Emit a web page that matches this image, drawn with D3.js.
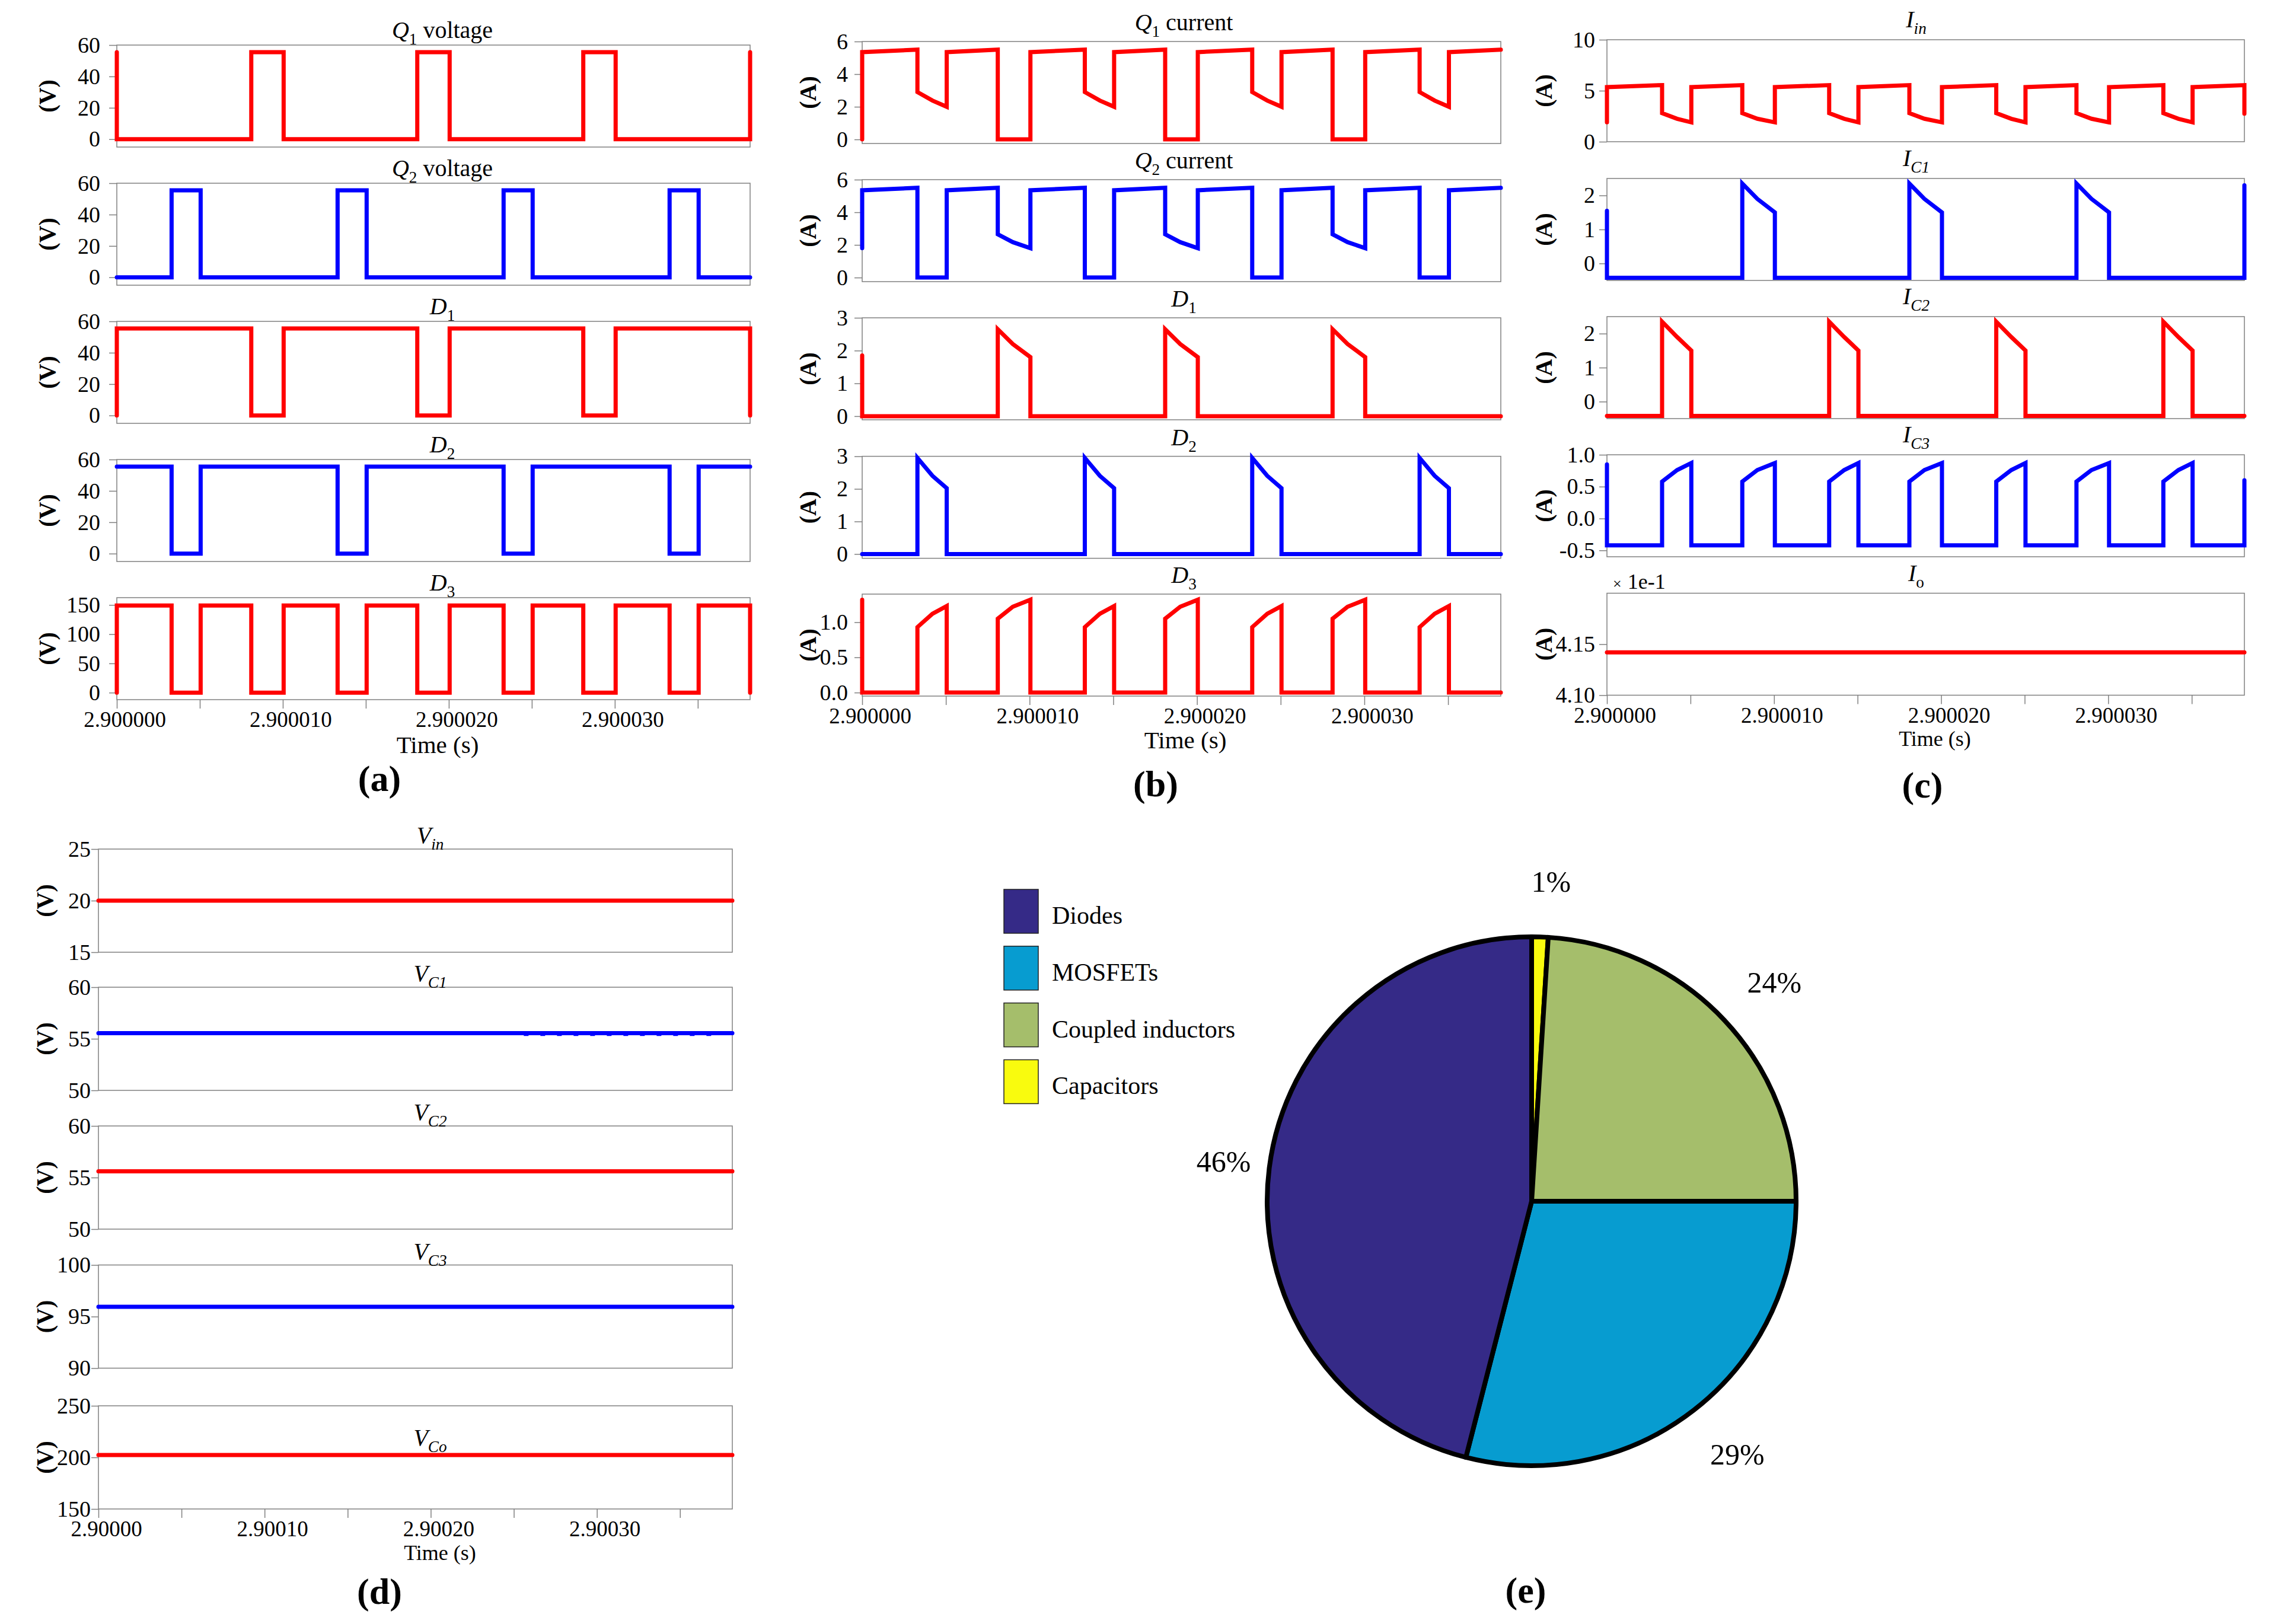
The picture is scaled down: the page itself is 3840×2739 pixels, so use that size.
<!DOCTYPE html>
<html>
<head>
<meta charset="utf-8">
<script src="https://cdn.jsdelivr.net/npm/d3@7"></script>
<style>
  body { margin: 0; background: #fff; }
  svg text { font-family: "Liberation Serif", "Times New Roman", serif; fill: #000; }
</style>
</head>
<body>
<svg id="fig" width="3840" height="2739"></svg>
<script>
// time is in microseconds after t = 2.9 s
const tEnd = 38.15
const xTicks = [0, 10, 20, 30]
const xMinor = [5, 15, 25, 35]

// (a) voltages [t, V]
const q1Voltage = [[0, 55.5], [0, 0], [8.1, 0], [8.1, 55.5], [10.05, 55.5], [10.05, 0], [18.1, 0], [18.1, 55.5], [20.05, 55.5], [20.05, 0], [28.1, 0], [28.1, 55.5], [30.05, 55.5], [30.05, 0], [38.15, 0], [38.15, 55.5]]
const q2Voltage = [[0, 0], [3.3, 0], [3.3, 55.5], [5.05, 55.5], [5.05, 0], [13.3, 0], [13.3, 55.5], [15.05, 55.5], [15.05, 0], [23.3, 0], [23.3, 55.5], [25.05, 55.5], [25.05, 0], [33.3, 0], [33.3, 55.5], [35.05, 55.5], [35.05, 0], [38.15, 0]]
const d1Voltage = [[0, 0], [0, 55.5], [8.1, 55.5], [8.1, 0], [10.05, 0], [10.05, 55.5], [18.1, 55.5], [18.1, 0], [20.05, 0], [20.05, 55.5], [28.1, 55.5], [28.1, 0], [30.05, 0], [30.05, 55.5], [38.15, 55.5], [38.15, 0]]
const d2Voltage = [[0, 55.5], [3.3, 55.5], [3.3, 0], [5.05, 0], [5.05, 55.5], [13.3, 55.5], [13.3, 0], [15.05, 0], [15.05, 55.5], [23.3, 55.5], [23.3, 0], [25.05, 0], [25.05, 55.5], [33.3, 55.5], [33.3, 0], [35.05, 0], [35.05, 55.5], [38.15, 55.5]]
const d3Voltage = [[0, 0], [0, 149], [3.3, 149], [3.3, 0], [5.05, 0], [5.05, 149], [8.1, 149], [8.1, 0], [10.05, 0], [10.05, 149], [13.3, 149], [13.3, 0], [15.05, 0], [15.05, 149], [18.1, 149], [18.1, 0], [20.05, 0], [20.05, 149], [23.3, 149], [23.3, 0], [25.05, 0], [25.05, 149], [28.1, 149], [28.1, 0], [30.05, 0], [30.05, 149], [33.3, 149], [33.3, 0], [35.05, 0], [35.05, 149], [38.15, 149], [38.15, 0]]

// (b) currents [t, A]
const q1Current = [[0, 0], [0, 5.35], [3.3, 5.5], [3.3, 2.9], [4.2, 2.38], [5.05, 2.0], [5.05, 5.35], [8.1, 5.5], [8.1, 0], [10.05, 0], [10.05, 5.35], [13.3, 5.5], [13.3, 2.9], [14.2, 2.38], [15.05, 2.0], [15.05, 5.35], [18.1, 5.5], [18.1, 0], [20.05, 0], [20.05, 5.35], [23.3, 5.5], [23.3, 2.9], [24.2, 2.38], [25.05, 2.0], [25.05, 5.35], [28.1, 5.5], [28.1, 0], [30.05, 0], [30.05, 5.35], [33.3, 5.5], [33.3, 2.9], [34.2, 2.38], [35.05, 2.0], [35.05, 5.35], [38.15, 5.5]]
const q2Current = [[0, 1.8], [0, 5.35], [3.3, 5.5], [3.3, 0], [5.05, 0], [5.05, 5.35], [8.1, 5.5], [8.1, 2.65], [9.0, 2.17], [10.05, 1.8], [10.05, 5.35], [13.3, 5.5], [13.3, 0], [15.05, 0], [15.05, 5.35], [18.1, 5.5], [18.1, 2.65], [19.0, 2.17], [20.05, 1.8], [20.05, 5.35], [23.3, 5.5], [23.3, 0], [25.05, 0], [25.05, 5.35], [28.1, 5.5], [28.1, 2.65], [29.0, 2.17], [30.05, 1.8], [30.05, 5.35], [33.3, 5.5], [33.3, 0], [35.05, 0], [35.05, 5.35], [38.15, 5.5]]
const d1Current = [[0, 1.85], [0, 0], [8.1, 0], [8.1, 2.65], [9.0, 2.2], [10.05, 1.8], [10.05, 0], [18.1, 0], [18.1, 2.65], [19.0, 2.2], [20.05, 1.8], [20.05, 0], [28.1, 0], [28.1, 2.65], [29.0, 2.2], [30.05, 1.8], [30.05, 0], [38.15, 0]]
const d2Current = [[0, 0], [3.3, 0], [3.3, 2.95], [4.2, 2.4], [5.05, 2.02], [5.05, 0], [13.3, 0], [13.3, 2.95], [14.2, 2.4], [15.05, 2.02], [15.05, 0], [23.3, 0], [23.3, 2.95], [24.2, 2.4], [25.05, 2.02], [25.05, 0], [33.3, 0], [33.3, 2.95], [34.2, 2.4], [35.05, 2.02], [35.05, 0], [38.15, 0]]
const d3Current = [[0, 1.32], [0, 0], [3.3, 0], [3.3, 0.93], [4.2, 1.12], [5.05, 1.23], [5.05, 0], [8.1, 0], [8.1, 1.05], [9.0, 1.22], [10.05, 1.32], [10.05, 0], [13.3, 0], [13.3, 0.93], [14.2, 1.12], [15.05, 1.23], [15.05, 0], [18.1, 0], [18.1, 1.05], [19.0, 1.22], [20.05, 1.32], [20.05, 0], [23.3, 0], [23.3, 0.93], [24.2, 1.12], [25.05, 1.23], [25.05, 0], [28.1, 0], [28.1, 1.05], [29.0, 1.22], [30.05, 1.32], [30.05, 0], [33.3, 0], [33.3, 0.93], [34.2, 1.12], [35.05, 1.23], [35.05, 0], [38.15, 0]]

// (c) input, capacitor and output currents [t, A]
const iIn = [[0, 1.9], [0, 5.35], [3.3, 5.55], [3.3, 2.8], [4.2, 2.25], [5.05, 1.9], [5.05, 5.35], [8.1, 5.55], [8.1, 2.8], [9.0, 2.25], [10.05, 1.9], [10.05, 5.35], [13.3, 5.55], [13.3, 2.8], [14.2, 2.25], [15.05, 1.9], [15.05, 5.35], [18.1, 5.55], [18.1, 2.8], [19.0, 2.25], [20.05, 1.9], [20.05, 5.35], [23.3, 5.55], [23.3, 2.8], [24.2, 2.25], [25.05, 1.9], [25.05, 5.35], [28.1, 5.55], [28.1, 2.8], [29.0, 2.25], [30.05, 1.9], [30.05, 5.35], [33.3, 5.55], [33.3, 2.8], [34.2, 2.25], [35.05, 1.9], [35.05, 5.35], [38.15, 5.55], [38.15, 2.75]]
const iC1 = [[0, 1.55], [0, -0.42], [8.1, -0.42], [8.1, 2.35], [9.0, 1.9], [10.05, 1.5], [10.05, -0.42], [18.1, -0.42], [18.1, 2.35], [19.0, 1.9], [20.05, 1.5], [20.05, -0.42], [28.1, -0.42], [28.1, 2.35], [29.0, 1.9], [30.05, 1.5], [30.05, -0.42], [38.15, -0.42], [38.15, 2.3]]
const iC2 = [[0, -0.42], [3.3, -0.42], [3.3, 2.35], [4.2, 1.9], [5.05, 1.5], [5.05, -0.42], [13.3, -0.42], [13.3, 2.35], [14.2, 1.9], [15.05, 1.5], [15.05, -0.42], [23.3, -0.42], [23.3, 2.35], [24.2, 1.9], [25.05, 1.5], [25.05, -0.42], [33.3, -0.42], [33.3, 2.35], [34.2, 1.9], [35.05, 1.5], [35.05, -0.42], [38.15, -0.42]]
const iC3 = [[0, 0.85], [0, -0.42], [3.3, -0.42], [3.3, 0.58], [4.2, 0.76], [5.05, 0.87], [5.05, -0.42], [8.1, -0.42], [8.1, 0.58], [9.0, 0.76], [10.05, 0.87], [10.05, -0.42], [13.3, -0.42], [13.3, 0.58], [14.2, 0.76], [15.05, 0.87], [15.05, -0.42], [18.1, -0.42], [18.1, 0.58], [19.0, 0.76], [20.05, 0.87], [20.05, -0.42], [23.3, -0.42], [23.3, 0.58], [24.2, 0.76], [25.05, 0.87], [25.05, -0.42], [28.1, -0.42], [28.1, 0.58], [29.0, 0.76], [30.05, 0.87], [30.05, -0.42], [33.3, -0.42], [33.3, 0.58], [34.2, 0.76], [35.05, 0.87], [35.05, -0.42], [38.15, -0.42], [38.15, 0.6]]
const iO = [[0, 4.142], [38.15, 4.142]]

// (d) input and capacitor voltages [t, V]
const vIn = [[0, 20], [38.15, 20]]
const vC1 = [[0, 55.55], [38.15, 55.55]]
const vC1Ripple = [[25.6, 55.36], [37.0, 55.36]]
const vC2 = [[0, 55.6], [38.15, 55.6]]
const vC3 = [[0, 95.95], [38.15, 95.95]]
const vCo = [[0, 202.3], [38.15, 202.3]]
// panel (d) prints its time labels as 2.90000, 2.90010, ...
const dTimeLabels = ['2.90000', '2.90010', '2.90020', '2.90030']

// (e) loss breakdown
const components = ['Diodes', 'MOSFETs', 'Coupled inductors', 'Capacitors']
const lossShare = [46, 29, 24, 1]
const lossColors = ['#352a87', '#079cd0', '#a5be6b', '#f9fb0e']
const pieOrder = [3, 2, 1, 0] // clockwise from 12 o'clock

const RED = '#ff0000'
const BLUE = '#0000ff'
const frameColor = '#808080'
const svg = d3.select('#fig')

function addTitle (x, y, parts, size) {
  const t = svg.append('text')
    .attr('x', x).attr('y', y)
    .attr('text-anchor', 'middle')
    .style('font-size', size + 'px')
  let shifted = false
  parts.forEach(function (p) {
    const s = t.append('tspan').text(p[0])
    if (p[1].includes('i')) s.style('font-style', 'italic')
    const sub = p[1].includes('s')
    if (sub && !shifted) { s.attr('dy', size * 0.28); shifted = true } else if (!sub && shifted) { s.attr('dy', -size * 0.28); shifted = false }
    if (sub) s.style('font-size', (size * 0.68) + 'px')
  })
}

function drawPanel (p) {
  const x = d3.scaleLinear().domain([0, tEnd]).range([p.x0, p.x1])

  p.rows.forEach(function (r, i) {
    const top = p.tops[i]
    const y = d3.scaleLinear().domain(r.domain).range([top + p.h, top])
    const g = svg.append('g')

    const ya = g.append('g')
      .attr('transform', 'translate(' + p.x0 + ',0)')
      .call(d3.axisLeft(y).tickValues(r.ticks).tickFormat(r.fmt).tickSize(p.tickSize).tickPadding(p.tickPad))
    ya.attr('font-size', 38)
    ya.select('.domain').remove()
    ya.selectAll('line').attr('stroke', frameColor).attr('stroke-width', 1.5)

    g.append('rect')
      .attr('x', p.x0).attr('y', top)
      .attr('width', p.x1 - p.x0).attr('height', p.h)
      .attr('fill', 'none').attr('stroke', frameColor).attr('stroke-width', 1.5)

    const path = d3.line()
      .x(function (d) { return x(d[0]) })
      .y(function (d) { return y(d[1]) })

    g.append('path')
      .attr('d', path(r.data))
      .attr('fill', 'none')
      .attr('stroke', r.color)
      .attr('stroke-width', 7)
      .attr('stroke-linecap', 'round')

    if (r.extra) {
      g.append('path')
        .attr('d', path(r.extra))
        .attr('fill', 'none')
        .attr('stroke', r.color)
        .attr('stroke-width', 3)
        .attr('stroke-dasharray', '8 20')
    }

    // y label
    const cy = top + p.h / 2
    g.append('text')
      .attr('transform', 'translate(' + p.ylabX + ',' + cy + ') rotate(-90)')
      .attr('text-anchor', 'middle')
      .attr('dy', '0.35em')
      .style('font-size', '40px')
      .style('font-weight', 'bold')
      .text(p.unit)

    const ty = r.titleInside ? top + r.titleInside : top - p.titleGap
    addTitle((p.x0 + p.x1) / 2 + p.titleDx, ty, r.title, 40)

    if (r.scaleNote) {
      const n = g.append('text')
        .attr('x', p.x0 + 10).attr('y', top - 8)
      n.append('tspan').style('font-size', '26px').text('\u00d7')
      n.append('tspan').style('font-size', '36px').attr('dx', 10).text(r.scaleNote)
    }
  })

  // time axis under last row
  const bottom = p.tops[p.tops.length - 1] + p.h
  const xa = svg.append('g')
    .attr('transform', 'translate(0,' + bottom + ')')
    .call(d3.axisBottom(x).tickValues(xTicks)
      .tickFormat(p.xFmt)
      .tickSize(15).tickPadding(5))
  xa.attr('font-size', 37)
  xa.select('.domain').remove()
  xa.selectAll('line').attr('stroke', frameColor).attr('stroke-width', 1.5)
  xa.selectAll('text').attr('dx', 13)

  const xm = svg.append('g')
    .attr('transform', 'translate(0,' + bottom + ')')
    .call(d3.axisBottom(x).tickValues(xMinor).tickFormat('').tickSize(15))
  xm.select('.domain').remove()
  xm.selectAll('line').attr('stroke', frameColor).attr('stroke-width', 1.5)

  svg.append('text')
    .attr('x', p.timeX).attr('y', p.timeY)
    .attr('text-anchor', 'middle')
    .style('font-size', p.timeSize + 'px')
    .text('Time (s)')

  svg.append('text')
    .attr('x', p.letterX).attr('y', p.letterY)
    .attr('text-anchor', 'middle')
    .style('font-size', '62px')
    .style('font-weight', 'bold')
    .text(p.letter)
}

const fInt = d3.format('d')
const f1 = function (d) { return d.toFixed(1) }
const f2 = function (d) { return d.toFixed(2) }
const fTime = function (d) { return (2.9 + d * 1e-6).toFixed(6) }
const fTimeD = function (d, i) { return dTimeLabels[i] }

drawPanel({
  x0: 197, x1: 1265, tops: [76, 309, 542, 775, 1008], h: 172,
  tickSize: 13, tickPad: 15, titleDx: 15, titleGap: 12, ylabX: 79, unit: '(V)',
  xFmt: fTime, timeX: 738, timeY: 1270, timeSize: 41, letter: '(a)', letterX: 640, letterY: 1334,
  rows: [
    { title: [['Q', 'i'], ['1', 's'], [' voltage', '']], data: q1Voltage, color: RED, domain: [-5, 60], ticks: [0, 20, 40, 60], fmt: fInt },
    { title: [['Q', 'i'], ['2', 's'], [' voltage', '']], data: q2Voltage, color: BLUE, domain: [-5, 60], ticks: [0, 20, 40, 60], fmt: fInt },
    { title: [['D', 'i'], ['1', 's']], data: d1Voltage, color: RED, domain: [-5, 60], ticks: [0, 20, 40, 60], fmt: fInt },
    { title: [['D', 'i'], ['2', 's']], data: d2Voltage, color: BLUE, domain: [-5, 60], ticks: [0, 20, 40, 60], fmt: fInt },
    { title: [['D', 'i'], ['3', 's']], data: d3Voltage, color: RED, domain: [-12, 162.5], ticks: [0, 50, 100, 150], fmt: fInt }
  ]
})

drawPanel({
  x0: 1454, x1: 2531, tops: [70, 303, 536, 769.6, 1002], h: 172,
  tickSize: 13, tickPad: 11, titleDx: 4, titleGap: 19, ylabX: 1362, unit: '(A)',
  xFmt: fTime, timeX: 1999, timeY: 1262, timeSize: 41, letter: '(b)', letterX: 1949, letterY: 1343,
  rows: [
    { title: [['Q', 'i'], ['1', 's'], [' current', '']], data: q1Current, color: RED, domain: [-0.25, 6], ticks: [0, 2, 4, 6], fmt: fInt },
    { title: [['Q', 'i'], ['2', 's'], [' current', '']], data: q2Current, color: BLUE, domain: [-0.25, 6], ticks: [0, 2, 4, 6], fmt: fInt },
    { title: [['D', 'i'], ['1', 's']], data: d1Current, color: RED, domain: [-0.11, 3], ticks: [0, 1, 2, 3], fmt: fInt },
    { title: [['D', 'i'], ['2', 's']], data: d2Current, color: BLUE, domain: [-0.13, 3], ticks: [0, 1, 2, 3], fmt: fInt },
    { title: [['D', 'i'], ['3', 's']], data: d3Current, color: RED, domain: [-0.05, 1.4], ticks: [0, 0.5, 1.0], fmt: f1 }
  ]
})

drawPanel({
  x0: 2710, x1: 3785, tops: [67, 301, 534, 767, 1000.5], h: 172,
  tickSize: 13, tickPad: 7, titleDx: -16, titleGap: 21, ylabX: 2603, unit: '(A)',
  xFmt: fTime, timeX: 3263, timeY: 1258, timeSize: 36, letter: '(c)', letterX: 3242, letterY: 1345,
  rows: [
    { title: [['I', 'i'], ['in', 'si']], data: iIn, color: RED, domain: [0, 10], ticks: [0, 5, 10], fmt: fInt },
    { title: [['I', 'i'], ['C1', 'si']], data: iC1, color: BLUE, domain: [-0.5, 2.5], ticks: [0, 1, 2], fmt: fInt },
    { title: [['I', 'i'], ['C2', 'si']], data: iC2, color: RED, domain: [-0.5, 2.5], ticks: [0, 1, 2], fmt: fInt },
    { title: [['I', 'i'], ['C3', 'si']], data: iC3, color: BLUE, domain: [-0.6, 1.0], ticks: [-0.5, 0, 0.5, 1.0], fmt: f1 },
    { title: [['I', 'i'], ['o', 's']], data: iO, color: RED, domain: [4.10, 4.20], ticks: [4.10, 4.15], fmt: f2, scaleNote: '1e-1' }
  ]
})

drawPanel({
  x0: 166, x1: 1235, tops: [1432, 1665, 1899, 2133.5, 2371], h: 174,
  tickSize: 12, tickPad: 1, titleDx: 25, titleGap: 10, ylabX: 75, unit: '(V)',
  xFmt: fTimeD, timeX: 742, timeY: 2631, timeSize: 36, letter: '(d)', letterX: 640, letterY: 2705,
  rows: [
    { title: [['V', 'i'], ['in', 'si']], data: vIn, color: RED, domain: [15, 25], ticks: [15, 20, 25], fmt: fInt },
    { title: [['V', 'i'], ['C1', 'si']], data: vC1, extra: vC1Ripple, color: BLUE, domain: [50, 60], ticks: [50, 55, 60], fmt: fInt },
    { title: [['V', 'i'], ['C2', 'si']], data: vC2, color: RED, domain: [50, 60], ticks: [50, 55, 60], fmt: fInt },
    { title: [['V', 'i'], ['C3', 'si']], data: vC3, color: BLUE, domain: [90, 100], ticks: [90, 95, 100], fmt: fInt },
    { title: [['V', 'i'], ['Co', 'si']], data: vCo, color: RED, domain: [150, 250], ticks: [150, 200, 250], fmt: fInt, titleInside: 67 }
  ]
})

// (e) pie of loss distribution
const pieCx = 2583
const pieCy = 2026
const pieR = 446
const pie = d3.pie().sort(null).value(function (i) { return lossShare[i] })
const arc = d3.arc().innerRadius(0).outerRadius(pieR)
const labelArc = d3.arc().innerRadius(pieR * 1.21).outerRadius(pieR * 1.21)
const pg = svg.append('g').attr('transform', 'translate(' + pieCx + ',' + pieCy + ')')
const slices = pie(pieOrder)

pg.selectAll('path.slice')
  .data(slices)
  .enter().append('path')
  .attr('class', 'slice')
  .attr('d', arc)
  .attr('fill', function (d) { return lossColors[d.data] })
  .attr('stroke', '#000')
  .attr('stroke-width', 8)
  .attr('stroke-linejoin', 'round')

pg.selectAll('text.pct')
  .data(slices)
  .enter().append('text')
  .attr('class', 'pct')
  .attr('transform', function (d) { return 'translate(' + labelArc.centroid(d) + ')' })
  .attr('text-anchor', 'middle')
  .attr('dx', 16)
  .attr('dy', '0.35em')
  .style('font-size', '50px')
  .text(function (d) { return lossShare[d.data] + '%' })

const lg = svg.append('g').attr('transform', 'translate(1693,1500)')
const item = lg.selectAll('g.item')
  .data(components)
  .enter().append('g')
  .attr('class', 'item')
  .attr('transform', function (d, i) { return 'translate(0,' + (i * 95.8) + ')' })
item.append('rect')
  .attr('width', 58).attr('height', 74)
  .attr('fill', function (d, i) { return lossColors[i] })
  .attr('stroke', '#222').attr('stroke-width', 1.5)
item.append('text')
  .attr('x', 81).attr('y', 58)
  .style('font-size', '42px')
  .text(function (d) { return d })

svg.append('text')
  .attr('x', 2573).attr('y', 2703)
  .attr('text-anchor', 'middle')
  .style('font-size', '62px')
  .style('font-weight', 'bold')
  .text('(e)')
</script>
</body>
</html>
